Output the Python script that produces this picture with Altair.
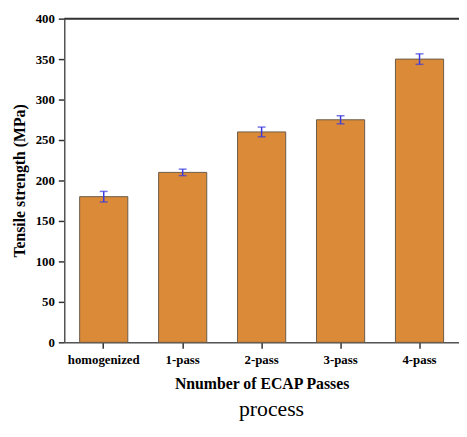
import altair as alt
import pandas as pd

categories = ["homogenized", "1-pass", "2-pass", "3-pass", "4-pass"]
strength = [180, 210, 260, 275, 350]
error = [6.5, 4, 6, 5, 6.5]

df = pd.DataFrame({"cat": categories, "val": strength, "err": error})
df["lo"] = df["val"] - df["err"]
df["hi"] = df["val"] + df["err"]

W, H = 400, 328
FONT = "Liberation Serif"

x = alt.X("cat:N", sort=categories,
          scale=alt.Scale(paddingInner=0.39, paddingOuter=0.195),
          axis=alt.Axis(title="Nnumber of ECAP Passes", labelAngle=0,
                        labelFont=FONT, labelFontWeight="bold", labelFontSize=13,
                        labelColor="black", labelPadding=5,
                        titleFont=FONT, titleFontWeight="bold", titleFontSize=16,
                        titleColor="black", titlePadding=10,
                        tickSize=6, tickColor="#333", tickWidth=1.5,
                        domainColor="#555", domainWidth=1.5))

y_axis = alt.Axis(title="Tensile strength (MPa)",
                  values=list(range(0, 401, 25)),
                  labelExpr="datum.value % 50 === 0 ? datum.label : ''",
                  tickSize={"condition": {"test": "datum.value % 50 === 0", "value": 6}, "value": 3},
                  labelFont=FONT, labelFontWeight="bold", labelFontSize=13,
                  labelColor="black", labelPadding=4,
                  titleFont=FONT, titleFontWeight="bold", titleFontSize=16,
                  titleColor="black", titlePadding=8,
                  tickColor="#333", tickWidth=1.5,
                  domainColor="#555", domainWidth=1.5, grid=False)

y = alt.Y("val:Q", scale=alt.Scale(domain=[0, 400], nice=False), axis=y_axis)

base = alt.Chart(df)

bars = base.mark_bar(color="#DB8B38", stroke="#6b5a48", strokeWidth=1).encode(x=x, y=y)

err = base.mark_rule(color="#3a3adf", strokeWidth=1.5).encode(
    x=alt.X("cat:N", sort=categories), y="lo:Q", y2="hi:Q")
cap_lo = base.mark_tick(color="#3a3adf", thickness=1.5, size=8, orient="horizontal").encode(
    x=alt.X("cat:N", sort=categories), y="lo:Q")
cap_hi = base.mark_tick(color="#3a3adf", thickness=1.5, size=8, orient="horizontal").encode(
    x=alt.X("cat:N", sort=categories), y="hi:Q")

top_line = alt.Chart(pd.DataFrame({"a": [0]})).mark_rule(color="#333", strokeWidth=2).encode(
    x=alt.value(0), x2=alt.value(W + 3), y=alt.value(0))

caption = alt.Chart(pd.DataFrame({"t": ["process"]})).mark_text(
    font=FONT, fontSize=22, color="black", baseline="middle", align="center").encode(
    text="t:N", x=alt.value(210), y=alt.value(396))

chart = alt.layer(bars, err, cap_lo, cap_hi, top_line, caption).properties(
    width=W, height=H,
    autosize=alt.AutoSizeParams(type="none"),
    padding={"left": 57, "top": 8, "right": 0, "bottom": 82},
).configure_view(stroke=None).configure(background="white")

chart.save("out.html", embed_options={"renderer": "svg", "actions": False})
